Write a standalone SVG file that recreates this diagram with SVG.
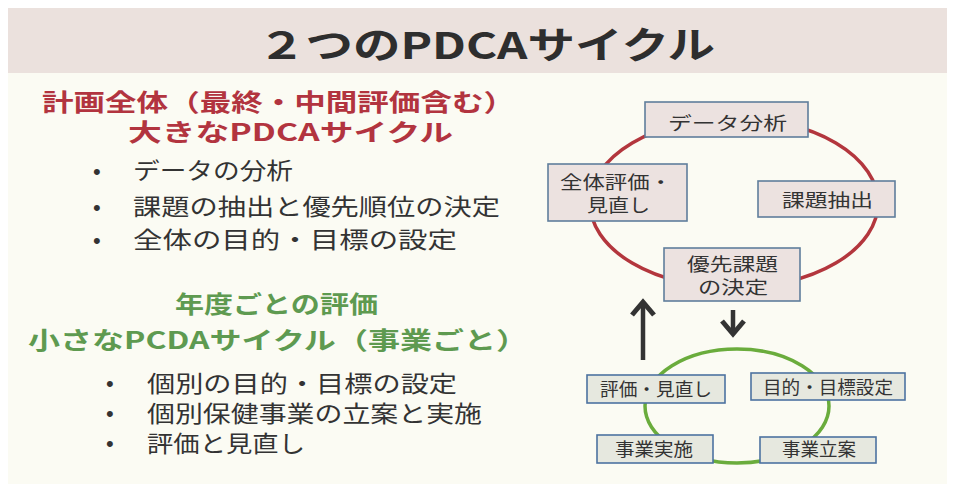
<svg xmlns="http://www.w3.org/2000/svg" width="955" height="484" viewBox="0 0 955 484">
<defs>
<style>
.jp{font-family:"Noto Sans CJK JP","Noto Sans",sans-serif;}
.title{font-size:37px;font-weight:700;fill:#2e2e2e;}
.red{font-size:24px;font-weight:700;fill:#b2343f;}
.green{font-size:24px;font-weight:700;fill:#5e9a50;}
.bul{font-size:23px;fill:#333;}
.dot{font-family:"Liberation Sans",Arial,sans-serif;font-size:22px;fill:#333;}
.bx{font-size:18px;fill:#333;}
.rbox{fill:#ece2e0;stroke:#5f7e9c;stroke-width:1.6;}
.gbox{fill:#e6e8df;stroke:#4d72a0;stroke-width:1.6;}
.ring-r{fill:none;stroke:#b3363d;stroke-width:3.5;}
.ring-g{fill:none;stroke:#6aac3c;stroke-width:3.5;}
.arr{fill:none;stroke:#333;stroke-width:4.5;}
</style>
<marker id="chev" markerUnits="userSpaceOnUse" viewBox="0 0 30 30" refX="25" refY="15" markerWidth="30" markerHeight="30" orient="auto">
<path d="M12,4 L25,15 L12,26" fill="none" stroke="#333" stroke-width="5"/>
</marker>
</defs>
<rect x="0" y="0" width="955" height="484" fill="#ffffff"/>
<rect x="8" y="73" width="939" height="411" fill="#fbfbf3"/>
<g id="title">
<rect x="8" y="8" width="939" height="65" fill="#ebe1dd"/>
<text class="jp title" x="258" y="59" textLength="457" lengthAdjust="spacingAndGlyphs">２つのPDCAサイクル</text>
</g>
<g id="big-cycle-text">
<text class="jp red" x="42" y="111" textLength="473" lengthAdjust="spacingAndGlyphs">計画全体（最終・中間評価含む）</text>
<text class="jp red" x="128" y="141" textLength="325" lengthAdjust="spacingAndGlyphs">大きなPDCAサイクル</text>
<text class="dot" x="93" y="179">•</text>
<text class="jp bul" x="133" y="179" textLength="160" lengthAdjust="spacingAndGlyphs">データの分析</text>
<text class="dot" x="93" y="215">•</text>
<text class="jp bul" x="133" y="215" textLength="367" lengthAdjust="spacingAndGlyphs">課題の抽出と優先順位の決定</text>
<text class="dot" x="93" y="248">•</text>
<text class="jp bul" x="133" y="248" textLength="324" lengthAdjust="spacingAndGlyphs">全体の目的・目標の設定</text>
</g>
<g id="small-cycle-text">
<text class="jp green" x="175" y="313" textLength="203" lengthAdjust="spacingAndGlyphs">年度ごとの評価</text>
<text class="jp green" x="28" y="349" textLength="500" lengthAdjust="spacingAndGlyphs">小さなPCDAサイクル（事業ごと）</text>
<text class="dot" x="106" y="391">•</text>
<text class="jp bul" x="147" y="392" textLength="310" lengthAdjust="spacingAndGlyphs">個別の目的・目標の設定</text>
<text class="dot" x="106" y="421">•</text>
<text class="jp bul" x="147" y="422" textLength="335" lengthAdjust="spacingAndGlyphs">個別保健事業の立案と実施</text>
<text class="dot" x="106" y="451">•</text>
<text class="jp bul" x="147" y="452" textLength="158" lengthAdjust="spacingAndGlyphs">評価と見直し</text>
</g>
<g id="connectors">
<ellipse class="ring-r" cx="734" cy="203" rx="144" ry="85"/>
<ellipse class="ring-g" cx="737" cy="406" rx="92" ry="57"/>
<path class="arr" d="M643,360 L643,302" marker-end="url(#chev)"/>
<path class="arr" d="M733,310 L733,334" marker-end="url(#chev)"/>
</g>
<g id="node-data">
<rect class="rbox" x="645" y="102" width="163" height="35"/>
<text class="jp bx" x="668" y="130" textLength="119" lengthAdjust="spacingAndGlyphs">データ分析</text>
</g>
<g id="node-review-all">
<rect class="rbox" x="548" y="164" width="139" height="57"/>
<text class="jp bx" x="560" y="189" textLength="112" lengthAdjust="spacingAndGlyphs">全体評価・</text>
<text class="jp bx" x="587" y="212" textLength="63" lengthAdjust="spacingAndGlyphs">見直し</text>
</g>
<g id="node-extract">
<rect class="rbox" x="758" y="181" width="137" height="36"/>
<text class="jp bx" x="782" y="207" textLength="91" lengthAdjust="spacingAndGlyphs">課題抽出</text>
</g>
<g id="node-priority">
<rect class="rbox" x="664" y="248" width="136" height="53"/>
<text class="jp bx" x="687" y="271" textLength="91" lengthAdjust="spacingAndGlyphs">優先課題</text>
<text class="jp bx" x="698" y="294" textLength="70" lengthAdjust="spacingAndGlyphs">の決定</text>
</g>
<g id="node-eval">
<rect class="gbox" x="587" y="375" width="138" height="28"/>
<text class="jp bx" x="600" y="396" textLength="112" lengthAdjust="spacingAndGlyphs">評価・見直し</text>
</g>
<g id="node-goal">
<rect class="gbox" x="751" y="373" width="154" height="27"/>
<text class="jp bx" x="763" y="394" textLength="130" lengthAdjust="spacingAndGlyphs">目的・目標設定</text>
</g>
<g id="node-implement">
<rect class="gbox" x="597" y="435" width="116" height="28"/>
<text class="jp bx" x="615" y="456" textLength="78" lengthAdjust="spacingAndGlyphs">事業実施</text>
</g>
<g id="node-plan">
<rect class="gbox" x="760" y="437" width="116" height="26"/>
<text class="jp bx" x="782" y="456" textLength="74" lengthAdjust="spacingAndGlyphs">事業立案</text>
</g>
</svg>
